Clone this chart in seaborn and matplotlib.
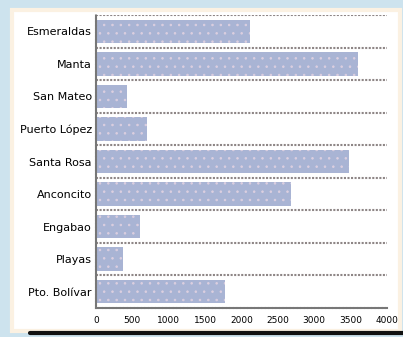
import matplotlib
matplotlib.use("Agg")
import matplotlib.pyplot as plt
import matplotlib.patches as mpatches
import seaborn as sns
import pandas as pd

places = ["Esmeraldas", "Manta", "San Mateo", "Puerto López", "Santa Rosa",
          "Anconcito", "Engabao", "Playas", "Pto. Bolívar"]
values = [2120, 3600, 420, 700, 3480, 2680, 600, 370, 1770]
x_ticks = [0, 500, 1000, 1500, 2000, 2500, 3000, 3500, 4000]

df = pd.DataFrame({"place": places, "value": values})

sns.set_style("white")
plt.rcParams["font.family"] = ["Liberation Sans Narrow", "DejaVu Sans"]
plt.rcParams["hatch.color"] = "#dccfe0"
plt.rcParams["hatch.linewidth"] = 0.6

fig = plt.figure(figsize=(4.03, 3.37), dpi=100)
fig.patch.set_facecolor("#cde3ee")

# framed white card behind the chart
card = mpatches.Rectangle((12 / 403, 6 / 337), 388 / 403, 321 / 337,
                          transform=fig.transFigure, facecolor="white",
                          edgecolor="#fbf1e2", linewidth=3, zorder=-5)
fig.add_artist(card)
fig.add_artist(plt.Line2D([30 / 403, 1.0], [4 / 337, 4 / 337],
                          transform=fig.transFigure, color="#111111", lw=3,
                          zorder=-4))

ax = fig.add_axes([96 / 403, 29 / 337, 291 / 403, 293 / 337])
ax.set_zorder(5)
ax.set_facecolor("none")

sns.barplot(data=df, y="place", x="value", orient="h", color="#a9b4d4",
            saturation=1, width=0.72, ax=ax, zorder=2)
for bar in ax.patches:
    bar.set_hatch("..")
    bar.set_edgecolor("#dccfe0")
    bar.set_linewidth(0)

# dashed separators between categories
for y in [i - 0.5 for i in range(len(places))]:
    ax.axhline(y, color="#8e8686", lw=1.5, ls=(0, (1.0, 0.7)), zorder=1)

ax.set_xlim(0, 4000)
ax.set_ylim(len(places) - 0.5, -0.5)
ax.set_xticks(x_ticks)
ax.set_xticklabels([str(t) for t in x_ticks], fontsize=6.5)
ax.tick_params(axis="x", length=4, width=0.8, color="#444444", pad=6,
               direction="in", labelcolor="black")
ax.tick_params(axis="y", length=0, labelsize=8, pad=3, labelcolor="black")
ax.set_xlabel("")
ax.set_ylabel("")
for side in ["top", "right"]:
    ax.spines[side].set_visible(False)
for side in ["left", "bottom"]:
    ax.spines[side].set_color("#777777")
    ax.spines[side].set_linestyle((0, (1.0, 0.7)))
    ax.spines[side].set_linewidth(1.5)

fig.savefig("out.png", dpi=100, facecolor=fig.get_facecolor())
